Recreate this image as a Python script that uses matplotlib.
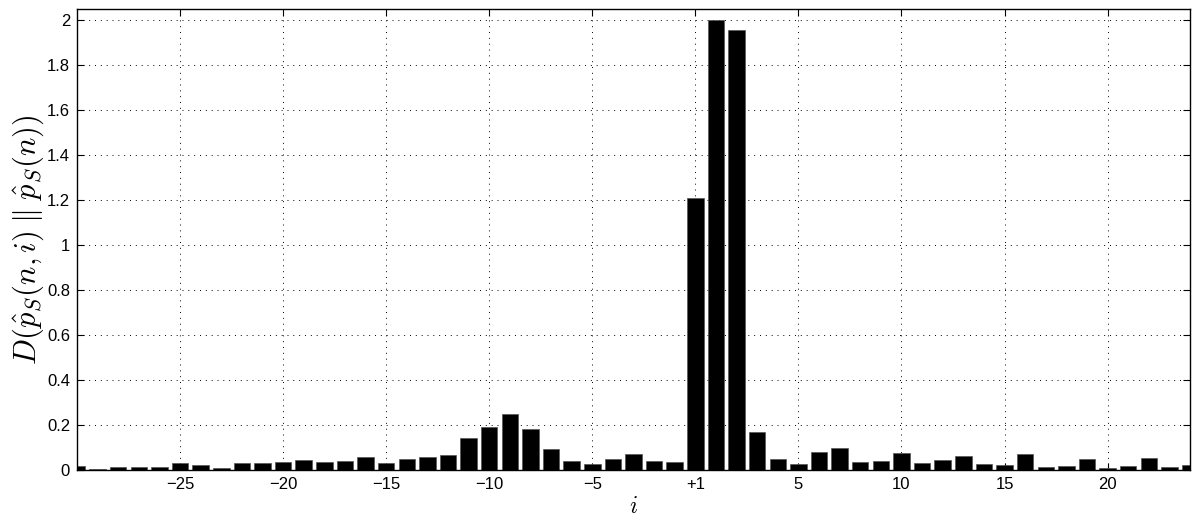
import matplotlib
matplotlib.use("Agg")
from matplotlib import pyplot as plt

plt.rcParams["font.family"] = ["Liberation Sans", "DejaVu Sans"]
plt.rcParams["mathtext.fontset"] = "cm"

# bar positions and heights
positions = list(range(-30, 25))
heights = [
    0.018, 0.006, 0.013, 0.015, 0.013, 0.032, 0.022, 0.011, 0.031, 0.032,
    0.036, 0.044, 0.034, 0.040, 0.056, 0.031, 0.047, 0.059, 0.065, 0.141,
    0.191, 0.247, 0.184, 0.093, 0.039, 0.027, 0.050, 0.071, 0.041, 0.034,
    1.209, 2.000, 1.956, 0.170, 0.047, 0.028, 0.080, 0.096, 0.034, 0.041,
    0.077, 0.033, 0.043, 0.062, 0.028, 0.021, 0.071, 0.012, 0.016, 0.050,
    0.010, 0.016, 0.052, 0.012, 0.021,
]

xticks = [-25, -20, -15, -10, -5, 0, 5, 10, 15, 20]
xticklabels = ["\u221225", "\u221220", "\u221215", "\u221210", "\u22125",
               "+1", "5", "10", "15", "20"]
yticks = [0, 0.2, 0.4, 0.6, 0.8, 1, 1.2, 1.4, 1.6, 1.8, 2]
yticklabels = ["0", "0.2", "0.4", "0.6", "0.8", "1", "1.2", "1.4", "1.6", "1.8", "2"]

fig = plt.figure(figsize=(11.97, 5.22), dpi=100)
ax = fig.add_axes([0.0643, 0.0996, 0.9299, 0.8832])

ax.bar(positions, heights, width=0.8, color="black", edgecolor="#555555",
       linewidth=0.5, zorder=3)

ax.set_xlim(-30, 24)
ax.set_ylim(0, 2.05)

ax.set_xticks(xticks)
ax.set_xticklabels(xticklabels)
ax.set_yticks(yticks)
ax.set_yticklabels(yticklabels)

ax.tick_params(direction="in", length=5, width=0.8, top=True, right=True,
               labelsize=12, pad=5)

# MATLAB-style dotted grid
ax.grid(True, color="black", linestyle=(0, (1, 5)), linewidth=0.7, zorder=0)

for s in ax.spines.values():
    s.set_linewidth(1.0)
    s.set_zorder(4)

ax.set_xlabel(r"$i$", fontsize=17, labelpad=3)
ax.set_ylabel(r"$D(\hat{p}_S(n,i)\;\|\;\hat{p}_S(n))$", fontsize=22, labelpad=1)

fig.savefig("out.png", dpi=100)
